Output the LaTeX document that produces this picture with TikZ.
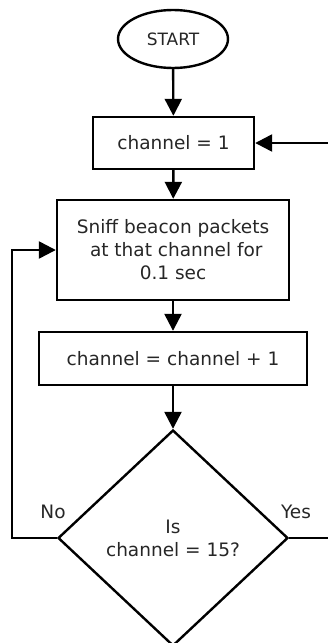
\documentclass[tikz,border=0pt]{standalone}
\usepackage{fontspec}
\setmainfont{DejaVu Sans}
\usetikzlibrary{shapes.geometric,arrows.meta}

\begin{document}
\begin{tikzpicture}[x=1pt,y=-1pt,
  every node/.style={font=\fontsize{18.5}{23}\selectfont, text=black!85},
  box/.style={draw=black, line width=2.4pt, rectangle, inner sep=0pt, align=center},
  terminal/.style={draw=black, line width=2.4pt, ellipse, inner sep=0pt,
    minimum width=110pt, minimum height=58pt},
  decision/.style={draw=black, line width=2.4pt, diamond, inner sep=0pt, align=center,
    aspect=1.065, minimum width=230pt, minimum height=216pt},
  flow/.style={line width=2.4pt, -{Triangle[length=17pt,width=17pt]}},
  plain/.style={line width=2.4pt},
  tag/.style={inner sep=0pt}]
  \useasboundingbox (0,0) rectangle (328,643);

  % process steps
  \node[terminal] (start) at (173,39) {\fontsize{17}{20}\selectfont START};
  \node[box, minimum width=161pt, minimum height=52pt] (init) at (173.5,143) {channel = 1};
  \node[box, minimum width=232pt, minimum height=100pt] (sniff) at (173,250)
    {Sniff beacon packets\\\hspace{0.35em}at that channel for\\0.1 sec};
  \node[box, minimum width=268pt, minimum height=53pt] (incr) at (173,358.5) {channel = channel + 1};
  \node[decision] (test) at (173,538) {Is\\channel = 15?};

  % branch labels
  \node[tag] (nolab) at (53,512) {No};
  \node[tag] (yeslab) at (296,512) {Yes};

  % loose ends running off the right side
  \coordinate (yesend) at (330,538);
  \coordinate (backin) at (330,143);

  % connectors
  \draw[flow] (start) -- (init);
  \draw[flow] (init) -- (sniff);
  \draw[flow] (sniff) -- (incr);
  \draw[flow] (incr) -- (test);
  \draw[flow] (test.west) -- ++(-45,0) |- (sniff.west);
  \draw[plain] (test.east) -- (yesend);
  \draw[flow] (backin) -- (init.east);
\end{tikzpicture}
\end{document}
